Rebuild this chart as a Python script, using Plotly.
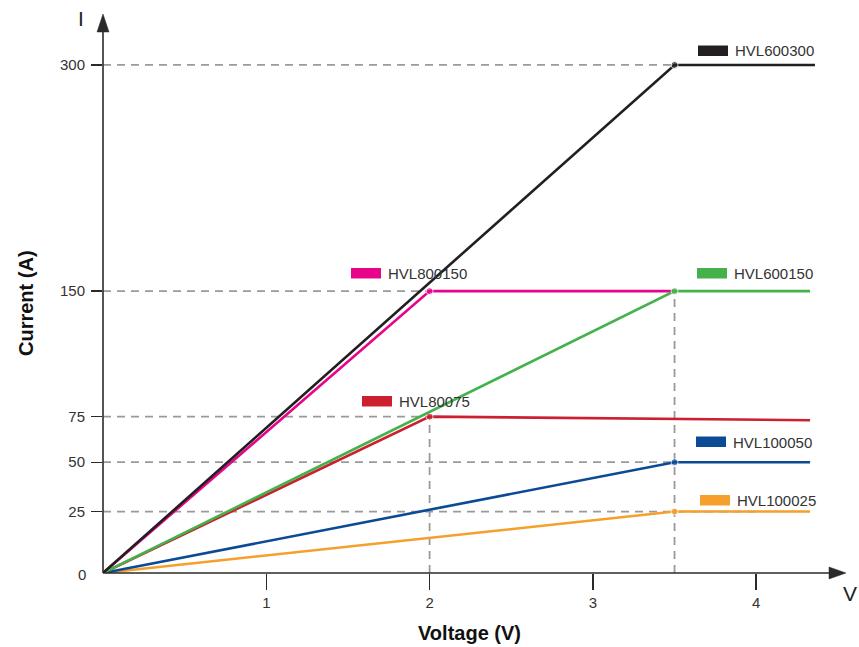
import plotly.graph_objects as go

# ---------------- data ----------------
series_names = ["HVL100025", "HVL100050", "HVL80075", "HVL800150", "HVL600150", "HVL600300"]
series_x = {
    "HVL100025": [0, 3.5, 4.33],
    "HVL100050": [0, 3.5, 4.33],
    "HVL80075": [0, 2.0, 4.33],
    "HVL800150": [0, 2.0, 3.5],
    "HVL600150": [0, 3.5, 4.33],
    "HVL600300": [0, 3.5, 4.36],
}
series_y = {
    "HVL100025": [0, 25, 25],
    "HVL100050": [0, 50, 50],
    "HVL80075": [0, 75, 73],
    "HVL800150": [0, 150, 150],
    "HVL600150": [0, 150, 150],
    "HVL600300": [0, 300, 300],
}
series_colors = {
    "HVL100025": "#f5a02c",
    "HVL100050": "#0b4a94",
    "HVL80075": "#cc1f30",
    "HVL800150": "#e8048a",
    "HVL600150": "#45b14b",
    "HVL600300": "#231f20",
}
x_ticks = [1, 2, 3, 4]
y_ticks = [25, 50, 75, 150, 300]
guide_levels = [300, 150, 75, 50, 25]
guide_ends = [4.0, 4.31, 2.0, 4.0, 4.0]
vguide_x = [2.0, 3.5]
vguide_top = [75, 150]

# legend label placement (page pixels): rect left, rect top
label_pos = {
    "HVL600300": (698, 45.5),
    "HVL800150": (351, 268),
    "HVL600150": (697, 268),
    "HVL80075": (362, 396),
    "HVL100050": (696, 436.5),
    "HVL100025": (700, 495),
}

# ---------------- scale ----------------
P = 0.85
def T(v):
    return v ** P

W, H = 859, 647
ML, MR, MT, MB = 103, 13, 14, 74
PW, PH = W - ML - MR, H - MT - MB
X_MAX = 4.55
Y_MAX = 140.3

def pxx(x):
    return (x - ML) / PW

def pxy(y):
    return (H - MB - y) / PH

fig = go.Figure()

# dashed guides (beneath the coloured lines)
for lvl, xe in zip(guide_levels, guide_ends):
    fig.add_trace(go.Scatter(
        x=[0, xe], y=[T(lvl), T(lvl)], mode="lines",
        line=dict(color="#9a9a9a", width=1.8, dash="8px,6px"),
        hoverinfo="skip", cliponaxis=False,
    ))
for xv, top in zip(vguide_x, vguide_top):
    fig.add_trace(go.Scatter(
        x=[xv, xv], y=[0, T(top)], mode="lines",
        line=dict(color="#9a9a9a", width=1.8, dash="8px,6px"),
        hoverinfo="skip", cliponaxis=False,
    ))

# coloured lines
for name in series_names:
    xs = series_x[name]
    ys = [T(v) for v in series_y[name]]
    fig.add_trace(go.Scatter(
        x=xs, y=ys, mode="lines+markers",
        line=dict(color=series_colors[name], width=2.6),
        marker=dict(size=[0, 7, 0], color=series_colors[name]),
        cliponaxis=False, hoverinfo="skip", name=name,
    ))

shapes = []
annotations = []
AX = "#2a2a2a"
# axis lines with arrows
shapes.append(dict(type="line", xref="paper", yref="paper", x0=0, y0=0,
                   x1=pxx(832), y1=0, line=dict(color=AX, width=1.6)))
shapes.append(dict(type="path", xref="paper", yref="paper",
                   path=f"M {pxx(829)},{pxy(567)} L {pxx(846)},{pxy(573)} L {pxx(829)},{pxy(579)} Z",
                   fillcolor=AX, line=dict(color=AX, width=0.5)))
shapes.append(dict(type="line", xref="paper", yref="paper", x0=0, y0=0,
                   x1=0, y1=pxy(30), line=dict(color=AX, width=1.6)))
shapes.append(dict(type="path", xref="paper", yref="paper",
                   path=f"M {pxx(97)},{pxy(32)} L {pxx(103)},{pxy(14)} L {pxx(109)},{pxy(32)} Z",
                   fillcolor=AX, line=dict(color=AX, width=0.5)))

# labels with colour swatches
for name, (rx, ry) in label_pos.items():
    shapes.append(dict(type="rect", xref="paper", yref="paper",
                       x0=pxx(rx), x1=pxx(rx + 30), y0=pxy(ry + 10.5), y1=pxy(ry),
                       fillcolor=series_colors[name], line=dict(width=0)))
    annotations.append(dict(xref="paper", yref="paper", x=pxx(rx + 35), y=pxy(ry + 5.5),
                            text=name, showarrow=False, xanchor="left", yanchor="middle",
                            font=dict(size=15, color="#333333")))

# "0" label, axis letters, titles
annotations.append(dict(xref="paper", yref="paper", x=pxx(88), y=pxy(574), text="0",
                        showarrow=False, xanchor="right", yanchor="middle",
                        font=dict(size=15, color="#333333")))
annotations.append(dict(xref="paper", yref="paper", x=pxx(81), y=pxy(19), text="I",
                        showarrow=False, xanchor="center", yanchor="middle",
                        font=dict(size=21, color="#222222")))
annotations.append(dict(xref="paper", yref="paper", x=pxx(850), y=pxy(593), text="V",
                        showarrow=False, xanchor="center", yanchor="middle",
                        font=dict(size=21, color="#222222")))
annotations.append(dict(xref="paper", yref="paper", x=pxx(26), y=pxy(303), text="<b>Current (A)</b>",
                        showarrow=False, xanchor="center", yanchor="middle", textangle=-90,
                        font=dict(size=20, color="#111111")))
annotations.append(dict(xref="paper", yref="paper", x=pxx(469), y=pxy(633), text="<b>Voltage (V)</b>",
                        showarrow=False, xanchor="center", yanchor="middle",
                        font=dict(size=20, color="#111111")))

fig.update_layout(
    width=W, height=H,
    margin=dict(l=ML, r=MR, t=MT, b=MB),
    plot_bgcolor="white", paper_bgcolor="white",
    showlegend=False,
    font=dict(family="Liberation Sans, Arial, sans-serif", color="#333333"),
    shapes=shapes, annotations=annotations,
    xaxis=dict(range=[0, X_MAX], tickvals=x_ticks, ticktext=[str(v) for v in x_ticks],
               ticks="outside", ticklen=16, tickwidth=1.4, tickcolor=AX,
               showgrid=False, zeroline=False, showline=False,
               tickfont=dict(size=15, color="#333333"), fixedrange=True),
    yaxis=dict(range=[0, Y_MAX], tickvals=[T(v) for v in y_ticks], ticktext=[str(v) for v in y_ticks],
               ticks="outside", ticklen=11, tickwidth=1.4, tickcolor=AX,
               showgrid=False, zeroline=False, showline=False, ticklabelstandoff=3,
               tickfont=dict(size=15, color="#333333"), fixedrange=True),
)

fig.write_html(
    "out.html",
    config={"displayModeBar": False, "staticPlot": True},
    post_script="document.body.style.margin='0';document.body.style.overflow='hidden';",
)
